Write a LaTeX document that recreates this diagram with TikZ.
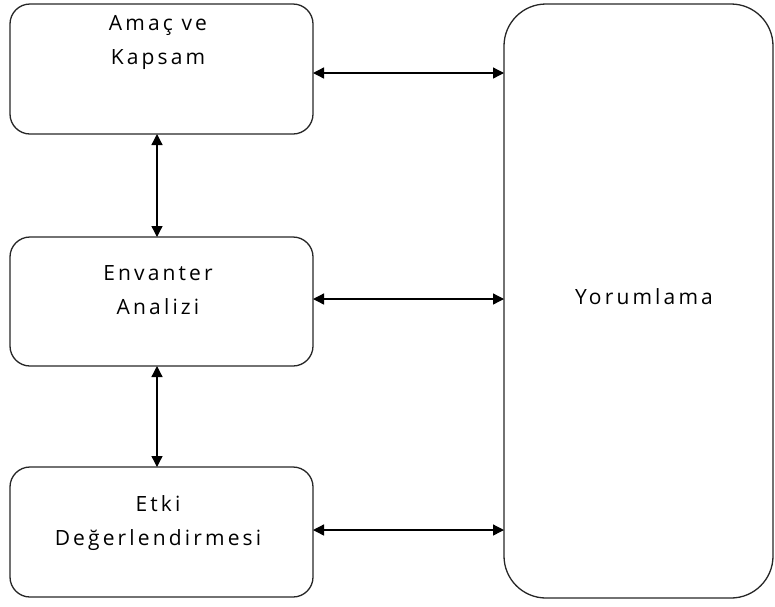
\documentclass[tikz,border=0pt]{standalone}
\usepackage{fontspec}
\setmainfont{Open Sans}[LetterSpace=15]
\usetikzlibrary{arrows.meta}
\begin{document}
\begin{tikzpicture}[x=1pt,y=-1pt,
  stage/.style={draw=black!85, line width=1.3pt, rounded corners=20pt},
  label/.style={font=\fontsize{21}{25}\selectfont, align=center, inner sep=0pt},
  link/.style={line width=1.3pt, {Triangle[length=11pt,width=11pt]}-{Triangle[length=11pt,width=11pt]}}]
  \useasboundingbox (0,0) rectangle (775,606);
  % stages on the left
  \draw[stage] (10,4) rectangle (313,134);
  \draw[stage] (10,237) rectangle (313,366);
  \draw[stage] (10,467) rectangle (313,597);
  \draw[stage, rounded corners=42pt] (504,4) rectangle (773,598);
  % named anchors on the box borders
  \coordinate (a1) at (313,73);  \coordinate (y1) at (504,73);
  \coordinate (a2) at (313,299); \coordinate (y2) at (504,299);
  \coordinate (a3) at (313,530); \coordinate (y3) at (504,530);
  \coordinate (ab) at (157,134); \coordinate (bt) at (157,237);
  \coordinate (bb) at (157,366); \coordinate (ct) at (157,467);
  % labels
  \node[label] (t1a) at (158,25) {Amaç ve};
  \node[label] (t1b) at (158,60) {Kapsam};
  \node[label] (t2a) at (158,273) {Envanter};
  \node[label] (t2b) at (158,307) {Analizi};
  \node[label] (t3a) at (158,504) {Etki};
  \node[label] (t3b) at (158,540) {Değerlendirmesi};
  \node[label] (t4) at (644,297) {Yorumlama};
  % connectors
  \draw[link] (a1) -- (y1);
  \draw[link] (a2) -- (y2);
  \draw[link] (a3) -- (y3);
  \draw[link] (ab) -- (bt);
  \draw[link] (bb) -- (ct);
\end{tikzpicture}
\end{document}
